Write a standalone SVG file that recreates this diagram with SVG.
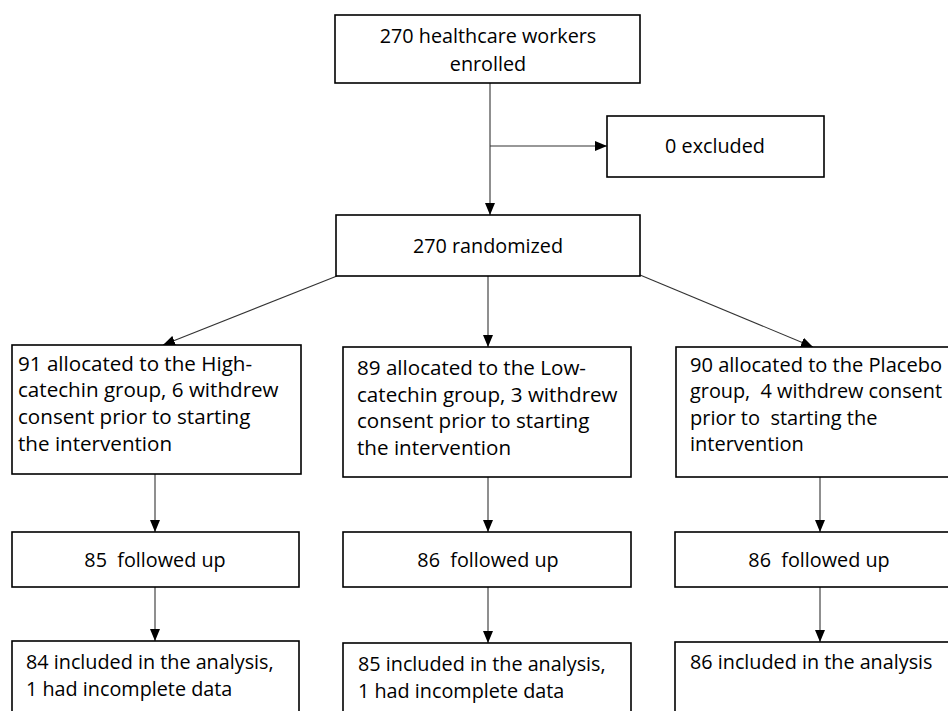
<svg xmlns="http://www.w3.org/2000/svg" width="948" height="711" viewBox="0 0 948 711">
<style>
.box{fill:#fff;stroke:#000;stroke-width:1.6}
.t{font-family:"Open Sans","Liberation Sans",sans-serif;font-size:19.8px;fill:#000;white-space:pre}
.g{font-size:20.6px}
.p{font-size:20px}
.c{text-anchor:middle}
.conn line{stroke:#333;stroke-width:1.1;fill:none}
.arr{marker-end:url(#ah)}
</style>
<defs>
<marker id="ah" markerUnits="userSpaceOnUse" markerWidth="12" markerHeight="10" viewBox="0 0 12 10" refX="12" refY="5" orient="auto">
<path d="M0,0 L12,5 L0,10 Z" fill="#000"/>
</marker>
</defs>
<rect width="948" height="711" fill="#fff"/>
<g class="conn" id="connectors">
<line x1="490" y1="83" x2="490" y2="215" class="arr"/>
<line x1="490" y1="146" x2="607" y2="146" class="arr"/>
<line x1="337" y1="276" x2="163" y2="345" class="arr"/>
<line x1="488" y1="276" x2="488" y2="347" class="arr"/>
<line x1="640" y1="275" x2="813" y2="347" class="arr"/>
<line x1="155" y1="474" x2="155" y2="532" class="arr"/>
<line x1="488" y1="477" x2="488" y2="532" class="arr"/>
<line x1="820" y1="477" x2="820" y2="532" class="arr"/>
<line x1="155" y1="587" x2="155" y2="641" class="arr"/>
<line x1="488" y1="587" x2="488" y2="643" class="arr"/>
<line x1="820" y1="587" x2="820" y2="642" class="arr"/>
</g>
<g id="enrolled">
<rect class="box" x="335" y="15" width="305" height="68"/>
<text class="t c" x="488" y="43">270 healthcare workers</text>
<text class="t c" x="488" y="71">enrolled</text>
</g>
<g id="excluded">
<rect class="box" x="607" y="116" width="217" height="61"/>
<text class="t c" x="715" y="153">0 excluded</text>
</g>
<g id="randomized">
<rect class="box" x="336" y="215" width="304" height="61"/>
<text class="t c" x="488" y="253">270 randomized</text>
</g>
<g id="high">
<rect class="box" x="12" y="345" width="289" height="129"/>
<text class="t g" x="18" y="371">91 allocated to the High-</text>
<text class="t g" x="18" y="397">catechin group, 6 withdrew</text>
<text class="t g" x="18" y="424">consent prior to starting</text>
<text class="t g" x="18" y="451">the intervention</text>
</g>
<g id="low">
<rect class="box" x="343" y="347" width="288" height="130"/>
<text class="t g" x="357" y="375">89 allocated to the Low-</text>
<text class="t g" x="357" y="402">catechin group, 3 withdrew</text>
<text class="t g" x="357" y="428">consent prior to starting</text>
<text class="t g" x="357" y="455">the intervention</text>
</g>
<g id="placebo">
<rect class="box" x="676" y="347" width="290" height="130"/>
<text class="t p" x="690" y="372" textLength="252" lengthAdjust="spacingAndGlyphs">90 allocated to the Placebo</text>
<text class="t p" x="690" y="398" textLength="252" lengthAdjust="spacingAndGlyphs">group,  4 withdrew consent</text>
<text class="t p" x="690" y="425">prior to  starting the</text>
<text class="t p" x="690" y="451">intervention</text>
</g>
<g id="fu-high">
<rect class="box" x="12" y="532" width="287" height="55"/>
<text class="t c" x="155" y="567">85  followed up</text>
</g>
<g id="fu-low">
<rect class="box" x="343" y="532" width="288" height="55"/>
<text class="t c" x="488" y="567">86  followed up</text>
</g>
<g id="fu-placebo">
<rect class="box" x="675" y="532" width="290" height="55"/>
<text class="t c" x="819" y="567">86  followed up</text>
</g>
<g id="an-high">
<rect class="box" x="12" y="641" width="287" height="80"/>
<text class="t" x="26" y="669">84 included in the analysis,</text>
<text class="t" x="26" y="696">1 had incomplete data</text>
</g>
<g id="an-low">
<rect class="box" x="343" y="643" width="288" height="80"/>
<text class="t" x="358" y="671">85 included in the analysis,</text>
<text class="t" x="358" y="698">1 had incomplete data</text>
</g>
<g id="an-placebo">
<rect class="box" x="675" y="642" width="290" height="80"/>
<text class="t" x="690" y="669">86 included in the analysis</text>
</g>
</svg>
